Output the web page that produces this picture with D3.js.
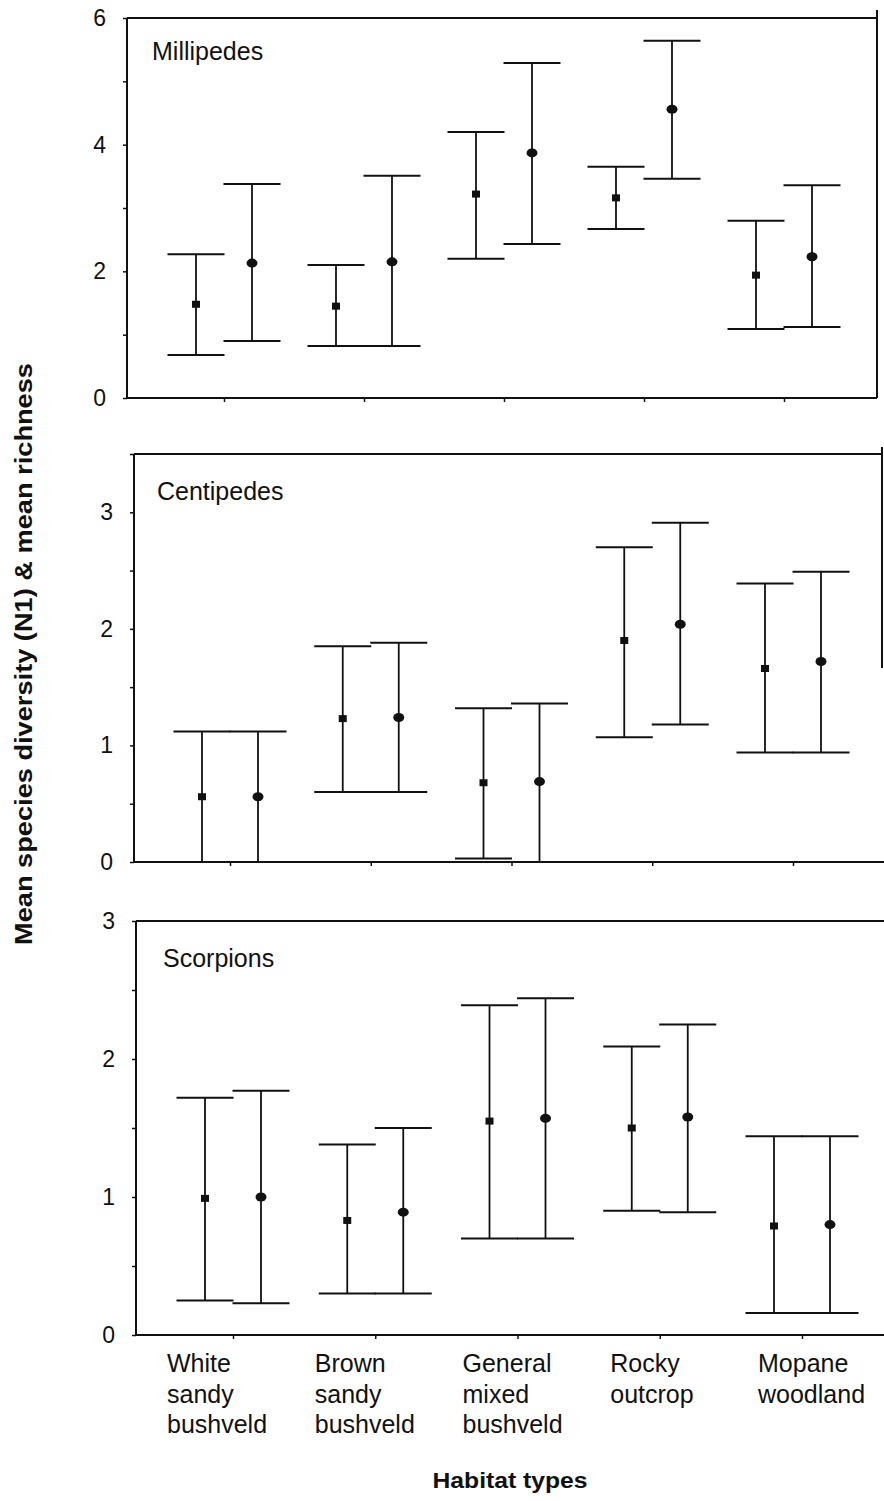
<!DOCTYPE html>
<html>
<head>
<meta charset="utf-8">
<script src="https://cdn.jsdelivr.net/npm/d3@7"></script>
<style>
  html, body { margin: 0; padding: 0; background: #fff; }
  svg { display: block; font-family: "Liberation Sans", Arial, sans-serif; }
</style>
</head>
<body>
<svg id="chart" width="884" height="1501"></svg>
<script>
// ---------- DATA ----------
const categories = ["White sandy bushveld", "Brown sandy bushveld", "General mixed bushveld", "Rocky outcrop", "Mopane woodland"];
const categoryLines = [["White", "sandy", "bushveld"], ["Brown", "sandy", "bushveld"], ["General", "mixed", "bushveld"], ["Rocky", "outcrop"], ["Mopane", "woodland"]];
const seriesNames = ["Species diversity (N1)", "Species richness"];

const milN1Mean   = [1.48, 1.45, 3.22, 3.16, 1.94];
const milN1Low    = [0.68, 0.82, 2.20, 2.67, 1.09];
const milN1High   = [2.27, 2.10, 4.20, 3.65, 2.80];
const milRichMean = [2.13, 2.15, 3.87, 4.56, 2.23];
const milRichLow  = [0.90, 0.82, 2.43, 3.46, 1.12];
const milRichHigh = [3.38, 3.51, 5.29, 5.64, 3.36];

const cenN1Mean   = [0.56, 1.23, 0.68, 1.90, 1.66];
const cenN1Low    = [0.00, 0.60, 0.03, 1.07, 0.94];
const cenN1High   = [1.12, 1.85, 1.32, 2.70, 2.39];
const cenRichMean = [0.56, 1.24, 0.69, 2.04, 1.72];
const cenRichLow  = [0.00, 0.60, 0.00, 1.18, 0.94];
const cenRichHigh = [1.12, 1.88, 1.36, 2.91, 2.49];

const scoN1Mean   = [0.99, 0.83, 1.55, 1.50, 0.79];
const scoN1Low    = [0.25, 0.30, 0.70, 0.90, 0.16];
const scoN1High   = [1.72, 1.38, 2.39, 2.09, 1.44];
const scoRichMean = [1.00, 0.89, 1.57, 1.58, 0.80];
const scoRichLow  = [0.23, 0.30, 0.70, 0.89, 0.16];
const scoRichHigh = [1.77, 1.50, 2.44, 2.25, 1.44];

const milTicksMajor = [0, 2, 4, 6];
const milTicksMinor = [1, 3, 5];
const cenTicksMajor = [0, 1, 2, 3];
const cenTicksMinor = [0.5, 1.5, 2.5, 3.5];
const scoTicksMajor = [0, 1, 2, 3];
const scoTicksMinor = [0.5, 1.5, 2.5];

const yTitle = "Mean species diversity (N1) & mean richness";
const xTitle = "Habitat types";

// ---------- LAYOUT ----------
const panels = [
  { name: "Millipedes", yMax: 6, major: milTicksMajor, minor: milTicksMinor,
    series: [[milN1Mean, milN1Low, milN1High], [milRichMean, milRichLow, milRichHigh]],
    left: 127, right: 877, yBottom: 398, yTop: 18, centers: [224, 784],
    rightBorder: [10, 398], bottomRight: 877, labelX: 152, labelY: 60 },
  { name: "Centipedes", yMax: 3.5, major: cenTicksMajor, minor: cenTicksMinor,
    series: [[cenN1Mean, cenN1Low, cenN1High], [cenRichMean, cenRichLow, cenRichHigh]],
    left: 134, right: 882, yBottom: 862, yTop: 454, centers: [230, 793],
    rightBorder: [447, 668], bottomRight: 884, labelX: 157, labelY: 500 },
  { name: "Scorpions", yMax: 3, major: scoTicksMajor, minor: scoTicksMinor,
    series: [[scoN1Mean, scoN1Low, scoN1High], [scoRichMean, scoRichLow, scoRichHigh]],
    left: 136, right: 884, yBottom: 1335, yTop: 921, centers: [233, 802],
    rightBorder: null, bottomRight: 884, labelX: 163, labelY: 967 }
];

const svg = d3.select("#chart");
const offset = 28, capHalf = 28.5;

panels.forEach(p => {
  const g = svg.append("g");
  const y = d3.scaleLinear().domain([0, p.yMax]).range([p.yBottom, p.yTop]);
  const x = d3.scalePoint().domain(categories).range(p.centers);

  // frame: top line, right line, bottom line
  g.append("line").attr("x1", p.left).attr("x2", p.right)
    .attr("y1", y(p.yMax)).attr("y2", y(p.yMax))
    .attr("stroke", "#111").attr("stroke-width", 2);
  if (p.rightBorder) {
    g.append("line").attr("x1", p.right).attr("x2", p.right)
      .attr("y1", p.rightBorder[0]).attr("y2", p.rightBorder[1])
      .attr("stroke", "#111").attr("stroke-width", 2);
  }
  g.append("line").attr("x1", p.left).attr("x2", p.bottomRight)
    .attr("y1", y(0)).attr("y2", y(0))
    .attr("stroke", "#111").attr("stroke-width", 2);

  // y axis: minor ticks
  const minorAxis = d3.axisLeft(y).tickValues(p.minor).tickSize(4).tickSizeOuter(0).tickFormat("");
  const gMinor = g.append("g").attr("transform", `translate(${p.left},0)`).call(minorAxis);
  gMinor.select(".domain").remove();
  gMinor.selectAll("line").attr("stroke", "#111").attr("stroke-width", 1.5);

  // y axis: major ticks with labels
  const majorAxis = d3.axisLeft(y).tickValues(p.major).tickSize(4).tickSizeOuter(0).tickPadding(17).tickFormat(d3.format("d"));
  const gMajor = g.append("g").attr("transform", `translate(${p.left},0)`).call(majorAxis);
  gMajor.select(".domain").attr("stroke", "#111").attr("stroke-width", 2)
    .attr("d", `M0,${y(p.yMax)}V${y(0)}`);
  gMajor.selectAll("line").attr("stroke", "#111").attr("stroke-width", 1.5);
  gMajor.selectAll("text").attr("font-size", 23).attr("fill", "#111")
    .attr("font-family", "'Liberation Sans', Arial, sans-serif");

  // x axis ticks at category centers
  const xAxis = d3.axisBottom(x).tickSize(4).tickFormat("");
  const gx = g.append("g").attr("transform", `translate(0,${y(0)})`).call(xAxis);
  gx.select(".domain").remove();
  gx.selectAll("line").attr("stroke", "#111").attr("stroke-width", 1.5);

  // panel label
  g.append("text").attr("x", p.labelX).attr("y", p.labelY)
    .attr("font-size", 25).attr("fill", "#111").text(p.name);

  // error bars
  p.series.forEach((s, si) => {
    const [mean, lo, hi] = s;
    const dx = si === 0 ? -offset : offset;
    const rows = categories.map((c, i) => ({ c, m: mean[i], lo: lo[i], hi: hi[i] }));
    const eg = g.append("g");
    eg.selectAll("line.stem").data(rows).join("line").attr("class", "stem")
      .attr("x1", d => x(d.c) + dx).attr("x2", d => x(d.c) + dx)
      .attr("y1", d => y(d.hi)).attr("y2", d => y(d.lo))
      .attr("stroke", "#111").attr("stroke-width", 1.8);
    eg.selectAll("line.capHi").data(rows).join("line").attr("class", "capHi")
      .attr("x1", d => x(d.c) + dx - capHalf).attr("x2", d => x(d.c) + dx + capHalf)
      .attr("y1", d => y(d.hi)).attr("y2", d => y(d.hi))
      .attr("stroke", "#111").attr("stroke-width", 2);
    eg.selectAll("line.capLo").data(rows.filter(d => d.lo > 0)).join("line").attr("class", "capLo")
      .attr("x1", d => x(d.c) + dx - capHalf).attr("x2", d => x(d.c) + dx + capHalf)
      .attr("y1", d => y(d.lo)).attr("y2", d => y(d.lo))
      .attr("stroke", "#111").attr("stroke-width", 2);
    if (si === 0) {
      eg.selectAll("rect.mk").data(rows).join("rect").attr("class", "mk")
        .attr("x", d => x(d.c) + dx - 4).attr("y", d => y(d.m) - 3.5)
        .attr("width", 8).attr("height", 7).attr("fill", "#111");
    } else {
      eg.selectAll("ellipse.mk").data(rows).join("ellipse").attr("class", "mk")
        .attr("cx", d => x(d.c) + dx).attr("cy", d => y(d.m))
        .attr("rx", 5.5).attr("ry", 4.5).attr("fill", "#111");
    }
  });
});

// category labels (left-aligned text blocks)
const xLab = d3.scalePoint().domain(categories).range([167, 758]);
categories.forEach((c, i) => {
  const t = svg.append("text").attr("font-size", 25).attr("fill", "#111");
  categoryLines[i].forEach((line, li) => {
    t.append("tspan").attr("x", xLab(c)).attr("y", 1372 + li * 30.5).text(line);
  });
});

// axis titles
svg.append("text").attr("x", 510).attr("y", 1488).attr("text-anchor", "middle")
  .attr("font-size", 22).attr("font-weight", "bold").attr("fill", "#111")
  .attr("textLength", 155).attr("lengthAdjust", "spacingAndGlyphs").text(xTitle);

svg.append("text").attr("transform", "translate(32,654) rotate(-90)")
  .attr("text-anchor", "middle").attr("font-size", 24).attr("font-weight", "bold")
  .attr("fill", "#111").attr("textLength", 582).attr("lengthAdjust", "spacingAndGlyphs")
  .text(yTitle);
</script>
</body>
</html>
